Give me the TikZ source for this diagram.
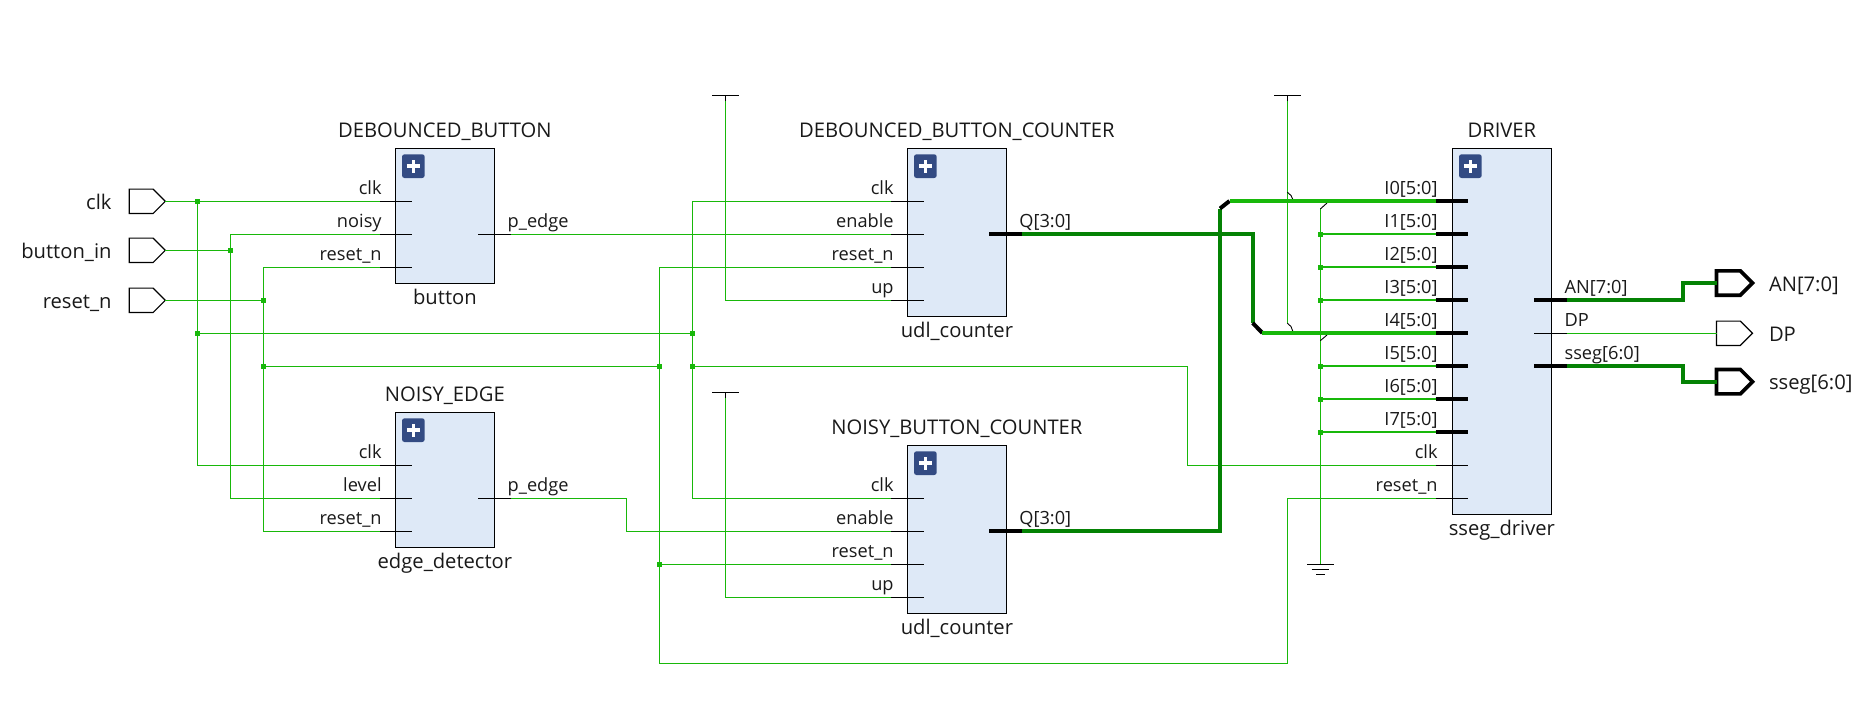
\documentclass[tikz,border=0pt]{standalone}
\usepackage{fontspec}
\setmainfont{Open Sans}
\usepackage{tikz}
\usetikzlibrary{positioning,calc,shapes.symbols}
\definecolor{wireGreen}{RGB}{24,184,10}
\definecolor{busGreen}{RGB}{4,130,4}
\definecolor{blockBlue}{RGB}{222,233,247}
\definecolor{iconBlue}{RGB}{51,75,131}
\tikzset{
  block/.style={rectangle, draw=black, fill=blockBlue, line width=1.3pt,
                minimum width=98.8pt, inner sep=0pt, outer sep=0pt, anchor=north west},
  plusicon/.style={rectangle, rounded corners=2.5pt, fill=iconBlue, inner sep=0pt, outer sep=0pt,
                   minimum width=22.7pt, minimum height=23.7pt,
                   path picture={\draw[white, line width=3.4pt, sharp corners]
                     (path picture bounding box.center) ++(-6.5pt,0) -- ++(13pt,0)
                     (path picture bounding box.center) ++(0,-6.5pt) -- ++(0,13pt);}},
  txt/.style={font=\fontsize{18.2}{20}\selectfont, inner sep=0pt, outer sep=0pt, text=black!90},
  bigtxt/.style={txt, font=\fontsize{20.2}{22}\selectfont},
  title/.style={bigtxt, anchor=base},
  lblL/.style={txt, anchor=base east},
  lblR/.style={txt, anchor=base west},
  portL/.style={bigtxt, anchor=base east},
  portR/.style={bigtxt, anchor=base west},
  stub/.style={draw=black, line width=1.2pt},
  busstub/.style={draw=black, line width=4pt},
  wire/.style={draw=wireGreen, line width=1.2pt},
  bus/.style={draw=busGreen, line width=4pt},
  lightbus/.style={draw=wireGreen, line width=4pt},
  dot/.style={rectangle, fill=wireGreen, minimum size=5pt, inner sep=0pt, outer sep=0pt},
  port/.style={signal, signal to=east, signal pointer angle=90, draw=black, fill=white, anchor=west,
               minimum width=36pt, minimum height=24.4pt, inner sep=0pt, outer sep=0pt, line width=1.2pt},
  busport/.style={port, line width=3.6pt},
}
\begin{document}
\begin{tikzpicture}[x=1pt,y=-1pt]
  \useasboundingbox (0,0) rectangle (1875,712);

  % blocks
  \node[block, minimum height=135pt] (btn) at (395.5,148.3) {};
  \node[block, minimum height=135pt, below=129pt of btn] (edge) {};
  \node[block, minimum height=168pt] (dbc) at (907.5,148.3) {};
  \node[block, minimum height=168pt, below=129pt of dbc] (nbc) {};
  \node[block, minimum height=366pt] (drv) at (1452.5,148.3) {};
  \foreach \b in {btn,edge,dbc,nbc,drv}
    \node[plusicon, below right=6pt and 6.5pt of \b.north west] (\b-icon) {};

  \node[title] (btn-title) at ($(btn.north)+(0,-10.6)$) {DEBOUNCED\_BUTTON};
  \node[title] (btn-inst) at ($(btn.south)+(0,21.4)$) {button};
  \node[title] (edge-title) at ($(edge.north)+(0,-10.6)$) {NOISY\_EDGE};
  \node[title] (edge-inst) at ($(edge.south)+(0,21.4)$) {edge\_detector};
  \node[title] (dbc-title) at ($(dbc.north)+(0,-10.6)$) {DEBOUNCED\_BUTTON\_COUNTER};
  \node[title] (dbc-inst) at ($(dbc.south)+(0,21.4)$) {udl\_counter};
  \node[title] (nbc-title) at ($(nbc.north)+(0,-10.6)$) {NOISY\_BUTTON\_COUNTER};
  \node[title] (nbc-inst) at ($(nbc.south)+(0,21.4)$) {udl\_counter};
  \node[title] (drv-title) at ($(drv.north)+(0,-10.6)$) {DRIVER};
  \node[title] (drv-inst) at ($(drv.south)+(0,21.4)$) {sseg\_driver};

  % pins
  \foreach \pin/\name/\y in {clk/clk/201.3,noisy/noisy/234.3,reset/reset\_n/267.3} {
    \coordinate (btn-\pin) at (380,\y);
    \draw[stub] (btn-\pin) -- ++(32.4,0);
    \node[lblL] (btn-\pin-t) at (381.6,\y-7) {\name};
  }
  \foreach \pin/\name/\y in {clk/clk/465.3,level/level/498.3,reset/reset\_n/531.3} {
    \coordinate (edge-\pin) at (380,\y);
    \draw[stub] (edge-\pin) -- ++(32.4,0);
    \node[lblL] (edge-\pin-t) at (381.6,\y-7) {\name};
  }
  \foreach \pin/\name/\y in {clk/clk/201.3,enable/enable/234.3,reset/reset\_n/267.3,up/up/300.3} {
    \coordinate (dbc-\pin) at (891,\y);
    \draw[stub] (dbc-\pin) -- ++(32.7,0);
    \node[lblL] (dbc-\pin-t) at (893.6,\y-7) {\name};
  }
  \foreach \pin/\name/\y in {clk/clk/498.3,enable/enable/531.3,reset/reset\_n/564.3,up/up/597.3} {
    \coordinate (nbc-\pin) at (891,\y);
    \draw[stub] (nbc-\pin) -- ++(32.7,0);
    \node[lblL] (nbc-\pin-t) at (893.6,\y-7) {\name};
  }
  \foreach \pin/\name/\y in {i0/I0/201,i1/I1/234,i2/I2/267,i3/I3/300,i4/I4/333,i5/I5/366,i6/I6/399,i7/I7/432} {
    \coordinate (drv-\pin) at (1435.5,\y);
    \draw[busstub] (drv-\pin) -- ++(32.3,0);
    \node[lblL] (drv-\pin-t) at (1437.6,\y-7) {\name[5:0]};
  }
  \foreach \pin/\name/\y in {clk/clk/465.3,reset/reset\_n/498.3} {
    \coordinate (drv-\pin) at (1435.5,\y);
    \draw[stub] (drv-\pin) -- ++(32.3,0);
    \node[lblL] (drv-\pin-t) at (1437.6,\y-7) {\name};
  }
  % output pins
  \coordinate (btn-out) at (510.5,234.3);
  \coordinate (edge-out) at (510.5,498.3);
  \coordinate (dbc-q) at (1022,234);
  \coordinate (nbc-q) at (1022,531);
  \coordinate (drv-an) at (1566.8,300);
  \coordinate (drv-dp) at (1566.8,333.3);
  \coordinate (drv-sseg) at (1566.8,366);
  \draw[stub] (btn-out) -- ++(-32.5,0);
  \draw[stub] (edge-out) -- ++(-32.5,0);
  \draw[busstub] (dbc-q) -- ++(-33,0);
  \draw[busstub] (nbc-q) -- ++(-33,0);
  \draw[busstub] (drv-an) -- ++(-32.8,0);
  \draw[stub] (drv-dp) -- ++(-32.8,0);
  \draw[busstub] (drv-sseg) -- ++(-32.8,0);
  \node[lblR] (btn-out-t) at (507.7,227.3) {p\_edge};
  \node[lblR] (edge-out-t) at (507.7,491.3) {p\_edge};
  \node[lblR] (dbc-q-t) at (1019.4,227.3) {Q[3:0]};
  \node[lblR] (nbc-q-t) at (1019.4,524.3) {Q[3:0]};
  \node[lblR] (drv-an-t) at (1564.6,293) {AN[7:0]};
  \node[lblR] (drv-dp-t) at (1564.6,326.3) {DP};
  \node[lblR] (drv-sseg-t) at (1564.6,359) {sseg[6:0]};

  % ports
  \node[port] (p-clk) at (129.3,201.3) {};
  \node[port] (p-btn) at (129.3,250.3) {};
  \node[port] (p-rst) at (129.3,300.3) {};
  \node[busport] (p-an) at (1716.5,283) {};
  \node[port] (p-dp) at (1716.5,333.3) {};
  \node[busport] (p-sseg) at (1716.5,381.7) {};
  \node[portL] (p-clk-t) at (111.5,209) {clk};
  \node[portL] (p-btn-t) at (111.5,258) {button\_in};
  \node[portL] (p-rst-t) at (111.5,308) {reset\_n};
  \node[portR] (p-an-t) at (1769,291.3) {AN[7:0]};
  \node[portR] (p-dp-t) at (1769,341.3) {DP};
  \node[portR] (p-sseg-t) at (1769,389.5) {sseg[6:0]};

  % junctions
  \node[dot] (jclk1) at (197.3,201.3) {};
  \node[dot] (jclk2) at (197.3,333.3) {};
  \node[dot] (jclk3) at (692.4,333.3) {};
  \node[dot] (jclk4) at (692.4,366.3) {};
  \node[dot] (jbtn) at (230.5,250.3) {};
  \node[dot] (jrst1) at (263.3,300.3) {};
  \node[dot] (jrst2) at (263.3,366.3) {};
  \node[dot] (jrst3) at (659.5,366.3) {};
  \node[dot] (jrst4) at (659.5,564.3) {};
  \foreach \pin/\y in {i1/234,i2/267,i3/300,i5/366,i6/399,i7/432}
    \node[dot] (jg-\pin) at (1320.5,\y) {};

  % clock
  \draw[wire] (p-clk.east) -- (btn-clk);
  \draw[wire] (jclk1) |- (edge-clk);
  \draw[wire] (jclk2) -- (jclk3);
  \draw[wire] (dbc-clk) -| (jclk3) |- (nbc-clk);
  \draw[wire] (jclk4) -- ++(495,0) |- (drv-clk);
  % button
  \draw[wire] (p-btn.east) -- (jbtn);
  \draw[wire] (btn-noisy) -| (jbtn) |- (edge-level);
  \draw[wire] (btn-out) -- (dbc-enable);
  \draw[wire] (edge-out) -- ++(115.9,0) |- (nbc-enable);
  % reset
  \draw[wire] (p-rst.east) -- (jrst1);
  \draw[wire] (btn-reset) -| (jrst1) |- (edge-reset);
  \draw[wire] (jrst2) -- (jrst3);
  \draw[wire] (dbc-reset) -| (jrst3) -- (jrst4) -- (nbc-reset);
  \coordinate (rstlow) at (659.5,663.3);
  \draw[wire] (jrst4) -- (rstlow) -- ++(627.6,0) |- (drv-reset);

  % tie cells
  \coordinate (vcc1) at (725.6,95.3);
  \coordinate (vcc2) at (725.6,392.3);
  \coordinate (vcc3) at (1287.4,95.3);
  \foreach \v in {vcc1,vcc2,vcc3}
    \draw[stub] ($(\v)+(-13.3,0)$) -- ++(26.6,0) ($(\v)$) -- ++(0,5.5);
  \draw[wire] ($(vcc1)+(0,5.5)$) |- (dbc-up);
  \draw[wire] ($(vcc2)+(0,5.5)$) |- (nbc-up);
  \coordinate (vcc3end) at (1287.4,323.3);
  \draw[wire] ($(vcc3)+(0,5.5)$) -- (vcc3end);
  \coordinate (gnd) at (1320.3,564.3);
  \coordinate (gndtop) at (1320.3,209);
  \draw[wire] (gndtop) -- (gnd);
  \draw[stub] ($(gnd)+(-13.3,0)$) -- ++(26.6,0);
  \draw[stub] ($(gnd)+(-8.7,4.8)$) -- ++(17.4,0);
  \draw[stub] ($(gnd)+(-4.2,9.8)$) -- ++(8.4,0);
  \foreach \pin in {i1,i2,i3,i5,i6,i7}
    \draw[wire] (jg-\pin) -- (drv-\pin);

  % rippers
  \draw[stub, line width=0.9pt] (1287.4,192.3) -- (1291,195.5) -- (1292.7,199);
  \draw[stub, line width=0.9pt] (vcc3end) -- (1291,326.5) -- (1292.7,331);
  \draw[stub, line width=0.9pt] (gndtop) -- (1327,203);
  \draw[stub, line width=0.9pt] (1320.3,340.7) -- (1327,335);

  % buses
  \coordinate (b0a) at (1220,208.5);
  \coordinate (b0b) at (1229.5,201);
  \coordinate (b4a) at (1252.7,323);
  \coordinate (b4b) at (1262.4,333);
  \draw[bus] (nbc-q) -| (b0a);
  \draw[busstub] (b0a) -- (b0b);
  \draw[lightbus] (b0b) -- (drv-i0);
  \draw[bus] (dbc-q) -| (b4a);
  \draw[busstub] (b4a) -- (b4b);
  \draw[lightbus] (b4b) -- (drv-i4);
  \draw[bus] (drv-an) -- ++(116,0) |- (p-an.west);
  \draw[wire] (drv-dp) -- (p-dp.west);
  \draw[bus] (drv-sseg) -- ++(116,0) |- (p-sseg.west);
\end{tikzpicture}
\end{document}
